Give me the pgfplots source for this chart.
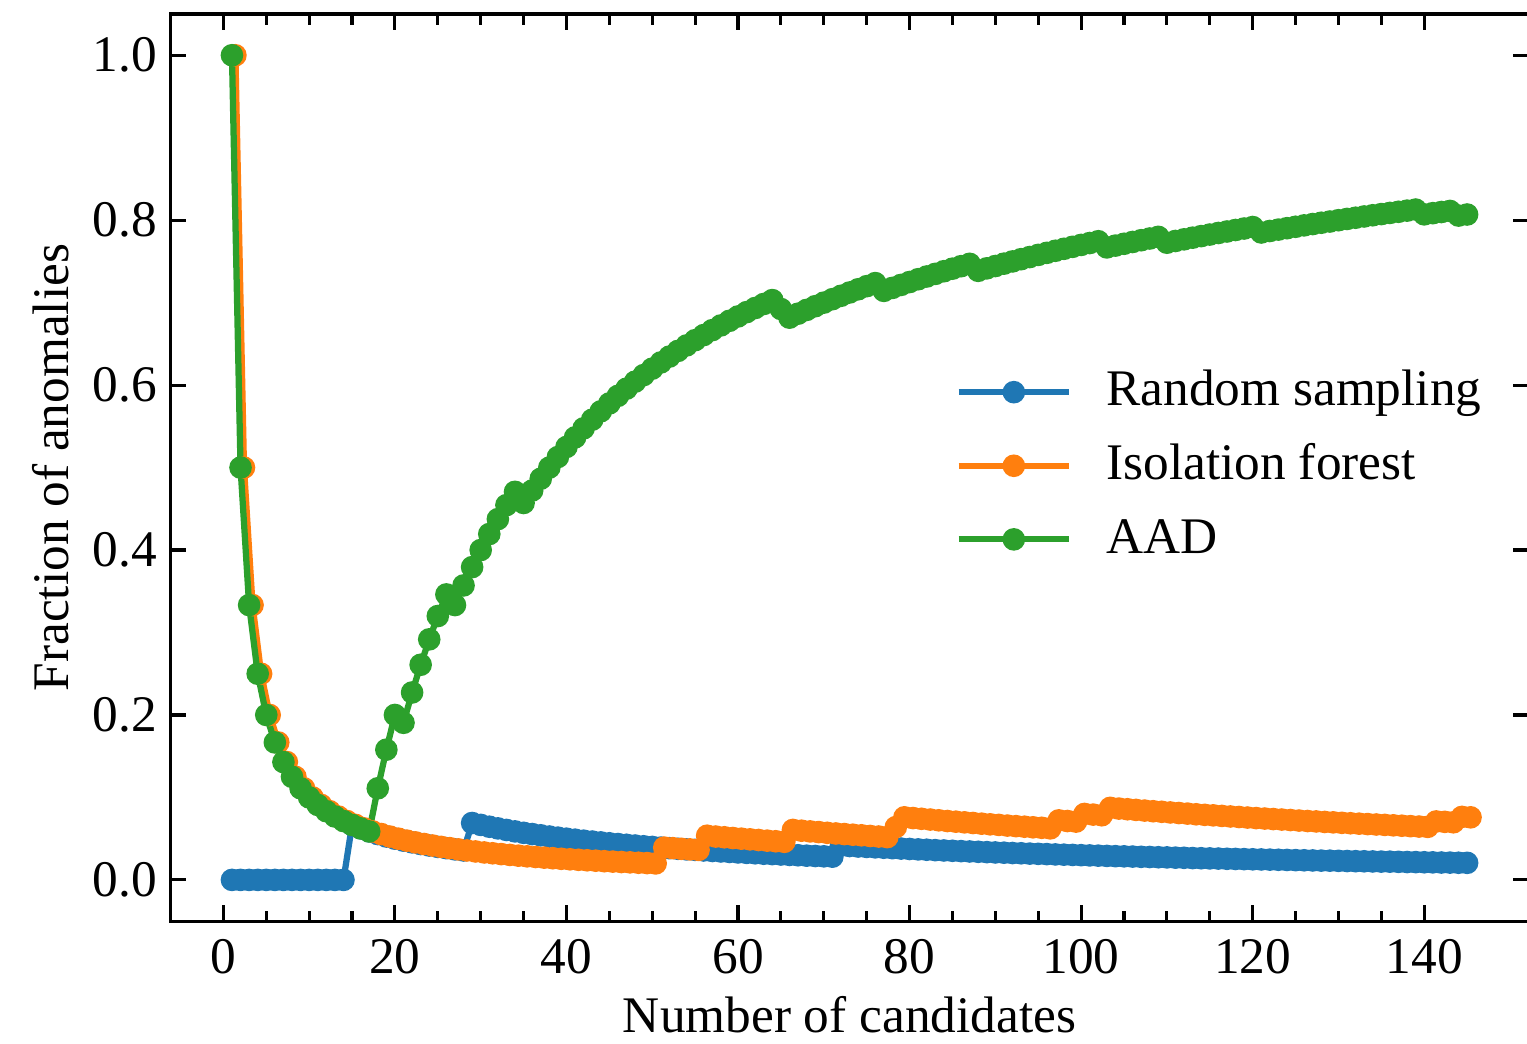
\documentclass[border=0pt]{standalone}
\usepackage{fontspec}
\setmainfont{Liberation Serif}
\usepackage{pgfplots}
\pgfplotsset{compat=1.18}
\definecolor{c1}{HTML}{1F77B4}
\definecolor{c2}{HTML}{FF7F0E}
\definecolor{c3}{HTML}{2CA02C}
\begin{document}
\fontsize{8.2}{9.8}\selectfont
\begin{tikzpicture}
\begin{axis}[
  scale only axis, width=217.12pt, height=144.96pt,
  xmin=-6.2, xmax=152.2, ymin=-0.05, ymax=1.05,
  xtick={0,20,40,60,80,100,120,140},
  ytick={0,0.2,0.4,0.6,0.8,1.0},
  minor x tick num=3,
  tick align=inside, xtick pos=both, ytick pos=both,
  xticklabel pos=left, yticklabel pos=left,
  major tick length=2.5pt, minor tick length=1.7pt,
  every tick/.style={black, line width=0.5pt},
  axis line style={line width=0.5pt},
  /pgf/number format/assume math mode=true,
  yticklabel style={xshift=0.8pt, /pgf/number format/.cd, fixed, fixed zerofill, precision=1},
  xlabel={Number of candidates}, ylabel={Fraction of anomalies},
  xlabel shift=-2.1pt, ylabel shift=-1.8pt,
  legend cell align=left,
  legend image code/.code={\draw[mark repeat=2, mark phase=2, #1] plot coordinates {(0cm,0cm) (0.31cm,0cm) (0.62cm,0cm)}; \path[draw=none, fill=none] (0.62cm,0cm) -- (0.62cm+5pt,0cm);},
  legend style={draw=none, fill=none, at={(0.578,0.502)}, anchor=west, inner sep=0pt, outer sep=0pt,
    row sep=2.16pt, nodes={inner sep=1pt, text height=6pt, text depth=1.6pt}},
]
\addplot[c1, line width=1pt, mark=*, mark size=1.3pt, mark options={draw=none, fill=c1}] coordinates {
(1,0)(2,0)(3,0)(4,0)(5,0)(6,0)(7,0)(8,0)(9,0)(10,0)(11,0)(12,0)(13,0)(14,0)
(15,0.0667)(16,0.0625)(17,0.0588)(18,0.0556)(19,0.0526)(20,0.0500)(21,0.0476)(22,0.0455)(23,0.0435)(24,0.0417)(25,0.0400)(26,0.0385)(27,0.0370)(28,0.0357)
(29,0.0690)(30,0.0667)(31,0.0645)(32,0.0625)(33,0.0606)(34,0.0588)(35,0.0571)(36,0.0556)(37,0.0541)(38,0.0526)(39,0.0513)(40,0.0500)
(41,0.0488)(42,0.0476)(43,0.0465)(44,0.0455)(45,0.0444)(46,0.0435)(47,0.0426)(48,0.0417)(49,0.0408)(50,0.0400)
(51,0.0392)(52,0.0385)(53,0.0377)(54,0.0370)(55,0.0364)(56,0.0357)(57,0.0351)(58,0.0345)(59,0.0339)(60,0.0333)
(61,0.0328)(62,0.0323)(63,0.0317)(64,0.0313)(65,0.0308)(66,0.0303)(67,0.0299)(68,0.0294)(69,0.0290)(70,0.0286)(71,0.0282)
(72,0.0417)(73,0.0411)(74,0.0405)(75,0.0400)(76,0.0395)(77,0.0390)(78,0.0385)(79,0.0380)(80,0.0375)
(81,0.0370)(82,0.0366)(83,0.0361)(84,0.0357)(85,0.0353)(86,0.0349)(87,0.0345)(88,0.0341)(89,0.0337)(90,0.0333)
(91,0.0330)(92,0.0326)(93,0.0323)(94,0.0319)(95,0.0316)(96,0.0313)(97,0.0309)(98,0.0306)(99,0.0303)(100,0.0300)
(101,0.0297)(102,0.0294)(103,0.0291)(104,0.0288)(105,0.0286)(106,0.0283)(107,0.0280)(108,0.0278)(109,0.0275)(110,0.0273)
(111,0.0270)(112,0.0268)(113,0.0265)(114,0.0263)(115,0.0261)(116,0.0259)(117,0.0256)(118,0.0254)(119,0.0252)(120,0.0250)
(121,0.0248)(122,0.0246)(123,0.0244)(124,0.0242)(125,0.0240)(126,0.0238)(127,0.0236)(128,0.0234)(129,0.0233)(130,0.0231)
(131,0.0229)(132,0.0227)(133,0.0226)(134,0.0224)(135,0.0222)(136,0.0221)(137,0.0219)(138,0.0217)(139,0.0216)(140,0.0214)
(141,0.0213)(142,0.0211)(143,0.0210)(144,0.0208)(145,0.0207)
};
\addlegendentry{Random sampling}
\addplot[c2, line width=1pt, mark=*, mark size=1.3pt, mark options={draw=none, fill=c2}] coordinates {
(1.4,1.0000)(2.4,0.5000)(3.4,0.3333)(4.4,0.2500)(5.4,0.2000)(6.4,0.1667)(7.4,0.1429)(8.4,0.1250)(9.4,0.1111)(10.4,0.1000)
(11.4,0.0909)(12.4,0.0833)(13.4,0.0769)(14.4,0.0714)(15.4,0.0667)(16.4,0.0625)(17.4,0.0588)(18.4,0.0556)(19.4,0.0526)(20.4,0.0500)
(21.4,0.0476)(22.4,0.0455)(23.4,0.0435)(24.4,0.0417)(25.4,0.0400)(26.4,0.0385)(27.4,0.0370)(28.4,0.0357)(29.4,0.0345)(30.4,0.0333)
(31.4,0.0323)(32.4,0.0313)(33.4,0.0303)(34.4,0.0294)(35.4,0.0286)(36.4,0.0278)(37.4,0.0270)(38.4,0.0263)(39.4,0.0256)(40.4,0.0250)
(41.4,0.0244)(42.4,0.0238)(43.4,0.0233)(44.4,0.0227)(45.4,0.0222)(46.4,0.0217)(47.4,0.0213)(48.4,0.0208)(49.4,0.0204)(50.4,0.0200)
(51.4,0.0392)(52.4,0.0385)(53.4,0.0377)(54.4,0.0370)(55.4,0.0364)
(56.4,0.0536)(57.4,0.0526)(58.4,0.0517)(59.4,0.0508)(60.4,0.0500)(61.4,0.0492)(62.4,0.0484)(63.4,0.0476)(64.4,0.0469)(65.4,0.0462)
(66.4,0.0606)(67.4,0.0597)(68.4,0.0588)(69.4,0.0580)(70.4,0.0571)(71.4,0.0563)(72.4,0.0556)(73.4,0.0548)(74.4,0.0541)(75.4,0.0533)(76.4,0.0526)(77.4,0.0519)
(78.4,0.0641)
(79.4,0.0759)(80.4,0.0750)(81.4,0.0741)(82.4,0.0732)(83.4,0.0723)(84.4,0.0714)(85.4,0.0706)(86.4,0.0698)(87.4,0.0690)(88.4,0.0682)
(89.4,0.0674)(90.4,0.0667)(91.4,0.0659)(92.4,0.0652)(93.4,0.0645)(94.4,0.0638)(95.4,0.0632)(96.4,0.0625)
(97.4,0.0722)(98.4,0.0714)(99.4,0.0707)
(100.4,0.0800)(101.4,0.0792)(102.4,0.0784)
(103.4,0.0874)(104.4,0.0865)(105.4,0.0857)(106.4,0.0849)(107.4,0.0841)(108.4,0.0833)(109.4,0.0826)(110.4,0.0818)
(111.4,0.0811)(112.4,0.0804)(113.4,0.0796)(114.4,0.0789)(115.4,0.0783)(116.4,0.0776)(117.4,0.0769)(118.4,0.0763)(119.4,0.0756)(120.4,0.0750)
(121.4,0.0744)(122.4,0.0738)(123.4,0.0732)(124.4,0.0726)(125.4,0.0720)(126.4,0.0714)(127.4,0.0709)(128.4,0.0703)(129.4,0.0698)(130.4,0.0692)
(131.4,0.0687)(132.4,0.0682)(133.4,0.0677)(134.4,0.0672)(135.4,0.0667)(136.4,0.0662)(137.4,0.0657)(138.4,0.0652)(139.4,0.0647)(140.4,0.0643)
(141.4,0.0709)(142.4,0.0704)(143.4,0.0699)(144.4,0.0764)(145.4,0.0759)
};
\addlegendentry{Isolation forest}
\addplot[c3, line width=1pt, mark=*, mark size=1.3pt, mark options={draw=none, fill=c3}] coordinates {
(1,1.0000)(2,0.5000)(3,0.3333)(4,0.2500)(5,0.2000)(6,0.1667)(7,0.1429)(8,0.1250)(9,0.1111)(10,0.1000)
(11,0.0909)(12,0.0833)(13,0.0769)(14,0.0714)(15,0.0667)(16,0.0625)(17,0.0588)
(18,0.1111)(19,0.1579)(20,0.2000)(21,0.1905)(22,0.2273)(23,0.2609)(24,0.2917)(25,0.3200)(26,0.3462)(27,0.3333)
(28,0.3571)(29,0.3793)(30,0.4000)(31,0.4194)(32,0.4375)(33,0.4545)(34,0.4706)(35,0.4571)(36,0.4722)(37,0.4865)
(38,0.5000)(39,0.5128)(40,0.5250)(41,0.5366)(42,0.5476)(43,0.5581)(44,0.5682)(45,0.5778)(46,0.5870)(47,0.5957)
(48,0.6042)(49,0.6122)(50,0.6200)(51,0.6275)(52,0.6346)(53,0.6415)(54,0.6481)(55,0.6545)(56,0.6607)(57,0.6667)
(58,0.6724)(59,0.6780)(60,0.6833)(61,0.6885)(62,0.6935)(63,0.6984)(64,0.7031)(65,0.6923)(66,0.6818)(67,0.6866)
(68,0.6912)(69,0.6957)(70,0.7000)(71,0.7042)(72,0.7083)(73,0.7123)(74,0.7162)(75,0.7200)(76,0.7237)(77,0.7143)
(78,0.7179)(79,0.7215)(80,0.7250)(81,0.7284)(82,0.7317)(83,0.7349)(84,0.7381)(85,0.7412)(86,0.7442)(87,0.7471)
(88,0.7386)(89,0.7416)(90,0.7444)(91,0.7473)(92,0.7500)(93,0.7527)(94,0.7553)(95,0.7579)(96,0.7604)(97,0.7629)
(98,0.7653)(99,0.7677)(100,0.7700)(101,0.7723)(102,0.7745)(103,0.7670)(104,0.7692)(105,0.7714)(106,0.7736)(107,0.7757)
(108,0.7778)(109,0.7798)(110,0.7727)(111,0.7748)(112,0.7768)(113,0.7788)(114,0.7807)(115,0.7826)(116,0.7845)(117,0.7863)
(118,0.7881)(119,0.7899)(120,0.7917)(121,0.7851)(122,0.7869)(123,0.7886)(124,0.7903)(125,0.7920)(126,0.7937)(127,0.7953)
(128,0.7969)(129,0.7984)(130,0.8000)(131,0.8015)(132,0.8030)(133,0.8045)(134,0.8060)(135,0.8074)(136,0.8088)(137,0.8102)
(138,0.8116)(139,0.8129)(140,0.8071)(141,0.8085)(142,0.8099)(143,0.8112)(144,0.8056)(145,0.8069)
};
\addlegendentry{AAD}
\end{axis}
\pgfresetboundingbox
\path[use as bounding box] ([xshift=-27.2pt, yshift=-19.52pt]current axis.south west) rectangle ([xshift=-0.3pt, yshift=2.24pt]current axis.north east);
\end{tikzpicture}
\end{document}
